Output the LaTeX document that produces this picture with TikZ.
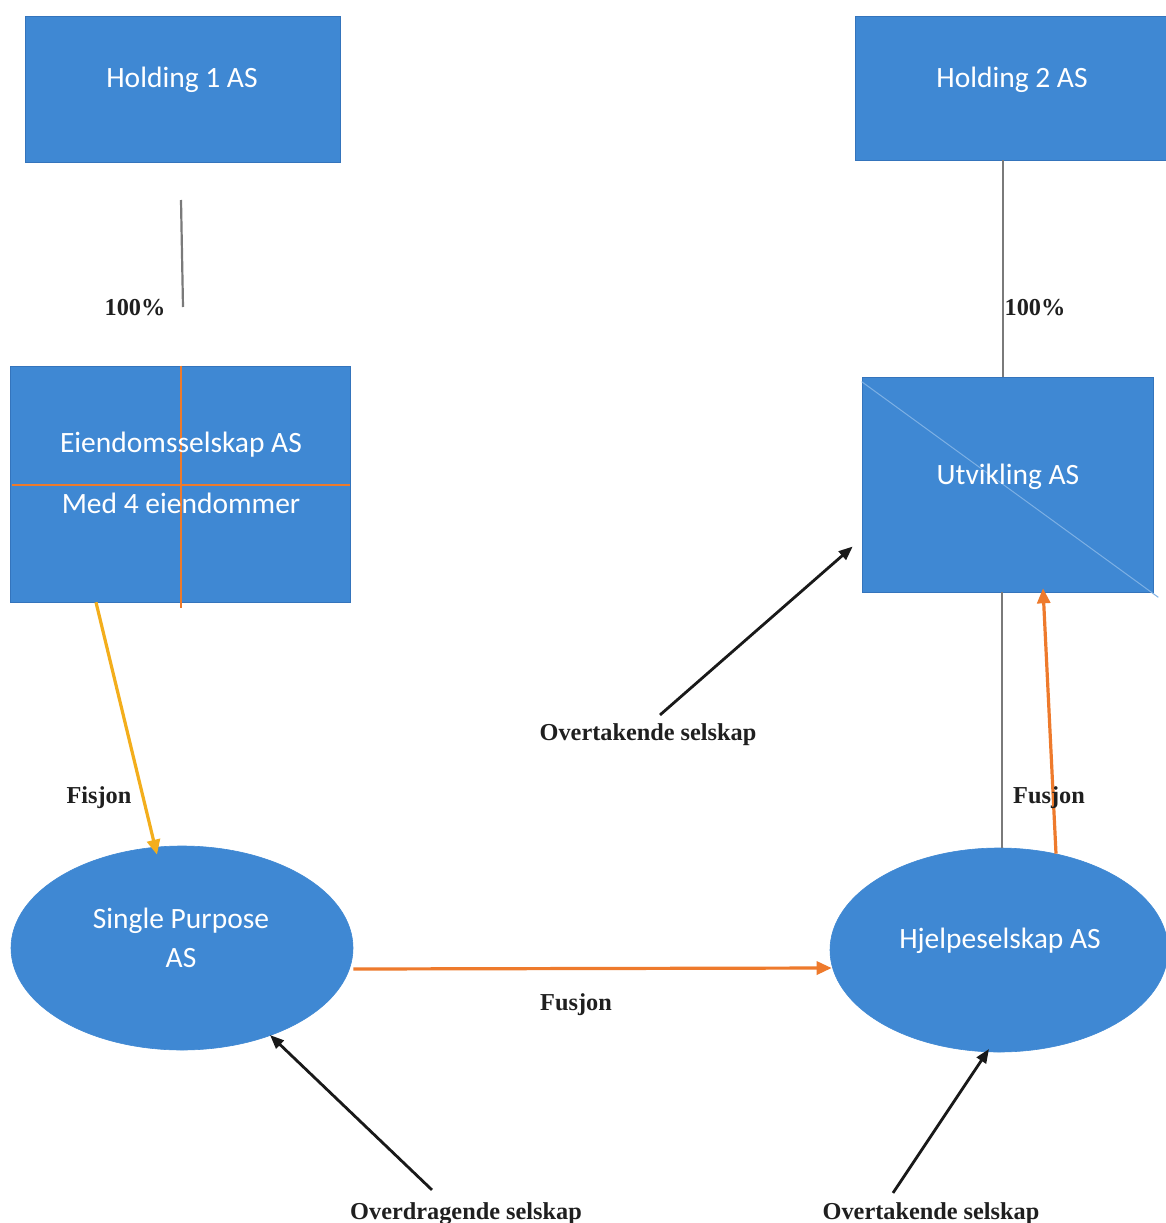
\documentclass[tikz,border=0pt]{standalone}
\usepackage{fontspec}
\setmainfont{Liberation Serif}
\newfontfamily\boxfont{Carlito}
\usetikzlibrary{arrows.meta,shapes.geometric}
\definecolor{boxblue}{HTML}{3F88D3}
\definecolor{boxedge}{HTML}{3474BC}
\definecolor{fuseorange}{HTML}{EE7A2C}
\definecolor{fisgold}{HTML}{F3AE1C}
\definecolor{ownergray}{HTML}{7A7A7A}
\definecolor{diagblue}{HTML}{7DB0E4}
\begin{document}
\begin{tikzpicture}[x=1pt,y=-1pt,
  company/.style={rectangle, fill=boxblue, draw=boxedge, line width=0.6pt, inner sep=0pt},
  entity/.style={ellipse, fill=boxblue, draw=boxblue, line width=0.6pt, inner sep=0pt},
  boxtext/.style={text=white, font=\boxfont\fontsize{29.5}{34}\selectfont, anchor=base, inner sep=0pt},
  lbl/.style={text=black!88, font=\bfseries\fontsize{24.3}{28}\selectfont, anchor=base, inner sep=2pt},
  owner/.style={draw=ownergray, line width=2.2pt},
  fuse/.style={draw=fuseorange, line width=3.2pt, -{Triangle[length=15pt,width=13pt]}},
  fis/.style={draw=fisgold, line width=3.2pt, -{Triangle[length=15pt,width=13pt]}},
  role/.style={draw=black!90, line width=2.8pt, -{Triangle[length=14pt,width=11pt]}},
  cross/.style={draw=fuseorange, line width=2.6pt}]

\useasboundingbox[fill=white] (0,0) rectangle (1166,1223);

% companies
\node[company, minimum width=315pt, minimum height=146pt] (h1) at (182.5,89) {};
\node[boxtext] (h1t) at (182,88) {Holding 1 AS};

\node[company, minimum width=313pt, minimum height=144pt] (h2) at (1011.5,88) {};
\node[boxtext] (h2t) at (1012,87) {Holding 2 AS};

\node[company, minimum width=340pt, minimum height=236pt] (eiend) at (180,484) {};
\node[company, minimum width=291pt, minimum height=215pt] (ut) at (1007.5,484.5) {};

\node[entity, minimum width=342pt, minimum height=204pt] (sp) at (182,948) {};
\node[entity, minimum width=338pt, minimum height=204pt] (hj) at (999,950) {};

% faint diagonal across Utvikling AS
\draw[diagblue, line width=1pt] (ut.north west) ++(0,5) -- ([xshift=5pt,yshift=-5pt]ut.south east);

% orange cross over Eiendomsselskap AS
\draw[cross] ([xshift=1pt]eiend.north) -- ([xshift=1pt,yshift=-6pt]eiend.south);
\draw[cross] ([xshift=2pt,yshift=-1pt]eiend.west) -- ([yshift=-1pt]eiend.east);

% texts inside shapes
\node[boxtext] (e1) at (181,452) {Eiendomsselskap AS};
\node[boxtext] (e2) at (181,513) {Med 4 eiendommer};
\node[boxtext] (utt) at (1008,484) {Utvikling AS};
\node[boxtext] (sp1) at (181,928) {Single Purpose};
\node[boxtext] (sp2) at (181,967) {AS};
\node[boxtext] (hjt) at (1000,948) {Hjelpeselskap AS};

% ownership lines
\coordinate (o1a) at (181,200);
\coordinate (o1b) at (183,307);
\draw[owner] (o1a) -- (o1b);
\node[lbl] (p1) at (135,315) {100\%};

\draw[owner] ([xshift=-8.5pt]h2.south) -- ([xshift=-4.5pt]ut.north);
\node[lbl] (p2) at (1035,315) {100\%};

\draw[owner] ([xshift=-5.5pt]ut.south) -- ([xshift=3pt]hj.north);

% fisjon and fusjon arrows
\draw[fis] ([xshift=-84pt]eiend.south) -- ([xshift=-25pt,yshift=-9pt]sp.north);
\node[lbl] (fis) at (99,803) {Fisjon};

\draw[fuse] ([yshift=-21pt]sp.east) -- ([xshift=2pt,yshift=-18pt]hj.west);
\node[lbl] (fu1) at (576,1010) {Fusjon};

\draw[fuse] ([xshift=57pt,yshift=-6pt]hj.north) -- ([xshift=35.5pt,yshift=4pt]ut.south);
\node[lbl] (fu2) at (1049,803) {Fusjon};

% role labels with arrows
\node[lbl] (ot1) at (648,740) {Overtakende selskap};
\draw[role] ([xshift=12pt,yshift=6pt]ot1.north) -- ([xshift=-9pt,yshift=-62pt]ut.west);

\node[lbl] (od) at (466,1219) {Overdragende selskap};
\draw[role] ([xshift=-34pt,yshift=10pt]od.north) -- ([xshift=88pt,yshift=-87pt]sp.center);

\node[lbl] (ot2) at (931,1219) {Overtakende selskap};
\draw[role] ([xshift=-38pt,yshift=7pt]ot2.north) -- ([xshift=-10pt,yshift=-99pt]hj.center);

\end{tikzpicture}
\end{document}
